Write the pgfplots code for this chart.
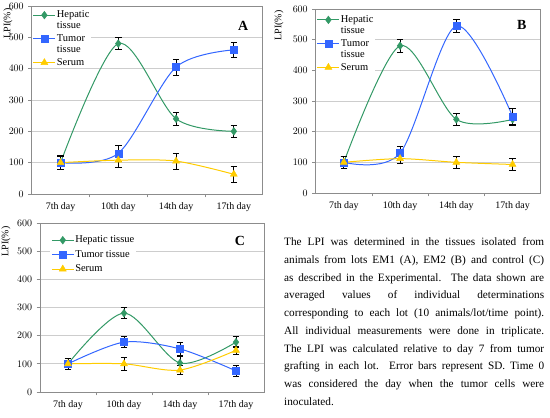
\documentclass[border=0pt]{standalone}
\usepackage{fontspec}
\setmainfont{Liberation Serif}
\usepackage{pgfplots}
\usepackage{pgfplotstable}
\pgfplotsset{compat=1.18}
\definecolor{hep}{RGB}{51,153,102}
\definecolor{tum}{RGB}{51,102,255}
\definecolor{ser}{RGB}{255,204,0}
\definecolor{gridc}{RGB}{205,205,205}
\definecolor{framec}{RGB}{140,140,140}

% Panel A
\pgfplotstableread{
x y e
0 100 20
1 480 20
2 240 20
3 200 20
}\AHep
\pgfplotstableread{
x y e
0 100 20
1 130 25
2 405 25
3 460 25
}\ATum
\pgfplotstableread{
x y e
0 100 22
1 108 22
2 105 25
3 63 25
}\ASer
% Panel B
\pgfplotstableread{
x y e
0 100 20
1 480 20
2 240 20
3 240 20
}\BHep
\pgfplotstableread{
x y e
0 100 20
1 130 22
2 545 20
3 250 25
}\BTum
\pgfplotstableread{
x y e
0 100 20
1 112 17
2 100 20
3 93 20
}\BSer
% Panel C
\pgfplotstableread{
x y e
0 100 20
1 280 20
2 103 25
3 177 20
}\CHep
\pgfplotstableread{
x y e
0 100 20
1 177 20
2 153 22
3 75 20
}\CTum
\pgfplotstableread{
x y e
0 100 20
1 100 22
2 78 15
3 148 15
}\CSer

\pgfplotsset{
 legend image code/.code={\draw[mark repeat=2,mark phase=2,#1] plot coordinates {(0bp,0bp) (11bp,0bp) (22bp,0bp)};},
 upimg/.style={legend image code/.code={\draw[mark repeat=2,mark phase=2,##1] plot coordinates {(0bp,5.5bp) (11bp,5.5bp) (22bp,5.5bp)};}},
 lpi/.style={
  scale only axis, anchor=south west,
  xmin=-0.5,xmax=3.5,ymin=0,ymax=600,
  xtick={0,1,2,3}, xticklabels={7th day,10th day,14th day,17th day},
  minor xtick={0.5,1.5,2.5},
  ytick={0,100,...,600},
  ymajorgrids, grid style={gridc,line width=0.7pt},
  axis line style={framec, line width=0.8pt},
  tick style={framec, line width=0.7pt},
  major x tick style={draw=none},
  tick align=outside, tick pos=left,
  major tick length=3.5pt, minor tick length=3.5pt,
  tick label style={font=\fontsize{10}{12}\selectfont, black},
  yticklabel style={xshift=-1pt},
  xticklabel style={yshift=-2pt},
  ylabel={LPI(\%)},
  ylabel style={font=\fontsize{10}{12}\selectfont, anchor=east},
  legend cell align=left,
  legend style={draw=none, fill=white, font=\fontsize{10.5}{11}\selectfont, row sep=0pt, inner sep=1pt, nodes={inner xsep=1pt, inner ysep=0pt}},
 },
 twoline/.style={legend style={row sep=4.4pt, nodes={align=left}}},
 hepS/.style={color=hep, line width=1pt, smooth, mark=diamond*, mark size=3.8pt, mark options={fill=hep,draw=hep,line width=0.5pt}},
 tumS/.style={color=tum, line width=1pt, smooth, mark=square*, mark size=3.5pt, mark options={fill=tum,draw=tum,line width=0.5pt}},
 serS/.style={color=ser, line width=1pt, smooth, mark=triangle*, mark size=4pt, mark options={fill=ser,draw=ser,line width=0.5pt}},
 eb/.style={error bars/y dir=both, error bars/y explicit, error bars/error bar style={black,line width=0.8pt}, error bars/error mark options={rotate=90,black,mark size=3.2pt,line width=0.8pt}},
}

\begin{document}
\begin{tikzpicture}
\useasboundingbox (0,0) rectangle (550bp,418bp);

% ---------- A ----------
\begin{axis}[lpi, twoline, at={(31.7bp,224bp)}, width=231bp, height=188bp,
  ylabel style={at={(axis description cs:-0.103,1.005)}},
  legend style={at={(axis description cs:0,0.98)}, anchor=north west}]
\addplot[hepS, eb, upimg] table[x=x,y=y,y error=e] {\AHep};
\addlegendentry{Hepatic\\tissue}
\addplot[tumS, eb, upimg] table[x=x,y=y,y error=e] {\ATum};
\addlegendentry{Tumor\\tissue}
\addplot[serS, eb] table[x=x,y=y,y error=e] {\ASer};
\addlegendentry{Serum}
\node[font=\fontsize{14}{16}\selectfont\bfseries] at (axis description cs:0.915,0.894) {A};
\end{axis}

% ---------- B ----------
\begin{axis}[lpi, twoline, at={(315.7bp,225bp)}, width=225bp, height=184bp,
  ylabel style={at={(axis description cs:-0.163,1.01)}},
  legend style={at={(axis description cs:0,0.97)}, anchor=north west}]
\addplot[hepS, eb, upimg] table[x=x,y=y,y error=e] {\BHep};
\addlegendentry{Hepatic\\tissue}
\addplot[tumS, eb, upimg] table[x=x,y=y,y error=e] {\BTum};
\addlegendentry{Tumor\\tissue}
\addplot[serS, eb] table[x=x,y=y,y error=e] {\BSer};
\addlegendentry{Serum}
\node[font=\fontsize{14}{16}\selectfont\bfseries] at (axis description cs:0.916,0.913) {B};
\end{axis}

% ---------- C ----------
\begin{axis}[lpi, at={(40bp,26bp)}, width=224bp, height=169bp,
  ylabel style={at={(axis description cs:-0.152,1.0)}},
  legend style={at={(axis description cs:0.045,0.933)}, anchor=north west, row sep=5pt, nodes={inner ysep=0.5pt}}]
\addplot[hepS, eb] table[x=x,y=y,y error=e] {\CHep};
\addlegendentry{Hepatic tissue}
\addplot[tumS, eb] table[x=x,y=y,y error=e] {\CTum};
\addlegendentry{Tumor tissue}
\addplot[serS, eb] table[x=x,y=y,y error=e] {\CSer};
\addlegendentry{Serum}
\node[font=\fontsize{14}{16}\selectfont\bfseries] at (axis description cs:0.893,0.893) {C};
\end{axis}

% ---------- caption text ----------
\node[anchor=north west, inner sep=0pt, align=left, font=\fontsize{11.3}{17.8}\selectfont] at (284bp,180.5bp) {%
\makebox[260bp][s]{The LPI was determined in the tissues isolated from}\\
\makebox[260bp][s]{animals from lots EM1 (A), EM2 (B) and control (C)}\\
\makebox[260bp][s]{as described in the Experimental. The data shown are}\\
\makebox[260bp][s]{averaged values of individual determinations}\\
\makebox[260bp][s]{corresponding to each lot (10 animals/lot/time point).}\\
\makebox[260bp][s]{All individual measurements were done in triplicate.}\\
\makebox[260bp][s]{The LPI was calculated relative to day 7 from tumor}\\
\makebox[260bp][s]{grafting in each lot. Error bars represent SD. Time 0}\\
\makebox[260bp][s]{was considered the day when the tumor cells were}\\
inoculated.};
\end{tikzpicture}
\end{document}
